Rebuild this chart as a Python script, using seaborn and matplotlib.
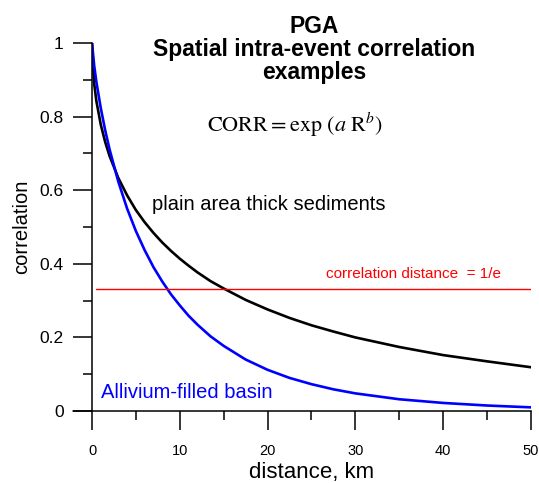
import numpy as np
import pandas as pd
import matplotlib
matplotlib.use('Agg')
import matplotlib.pyplot as plt
import seaborn as sns

# valores =====================================================================
distance = [0, 0.25, 0.5, 1, 1.5, 2, 3, 4, 5, 6, 7, 8, 9, 10, 11, 12,
            13.5, 15, 17.5, 20, 22.5, 25, 27.5, 30, 35, 40, 45, 50]
corr_sediments = [1.0, 0.889, 0.842, 0.778, 0.731, 0.693, 0.633, 0.586,
                  0.546, 0.513, 0.484, 0.458, 0.435, 0.414, 0.395, 0.377,
                  0.353, 0.333, 0.302, 0.276, 0.253, 0.233, 0.216, 0.200,
                  0.174, 0.152, 0.135, 0.119]
corr_basin = [1.0, 0.938, 0.894, 0.823, 0.763, 0.711, 0.623, 0.550,
              0.489, 0.437, 0.391, 0.352, 0.317, 0.287, 0.259, 0.235,
              0.203, 0.177, 0.140, 0.112, 0.090, 0.073, 0.059, 0.048,
              0.032, 0.022, 0.015, 0.010]
corr_distance = 0.331
line_start, line_end = 0.5, 50

xticks = [0, 10, 20, 30, 40, 50]
yticks = [0, 0.2, 0.4, 0.6, 0.8, 1]
ytick_labels = ['0', '0.2', '0.4', '0.6', '0.8', '1']

df = pd.DataFrame({'distance': distance,
                   'sediments': corr_sediments,
                   'basin': corr_basin})

sns.set_style('ticks')
plt.rcParams['font.family'] = ['Liberation Sans', 'DejaVu Sans']
plt.rcParams['mathtext.fontset'] = 'stix'
plt.rcParams['text.color'] = 'black'
plt.rcParams['axes.labelcolor'] = 'black'
plt.rcParams['xtick.color'] = 'black'
plt.rcParams['ytick.color'] = 'black'

fig = plt.figure(figsize=(5.39, 4.83), dpi=100)
ax = fig.add_axes([0.1707, 0.149, 0.8143, 0.762])

sns.lineplot(data=df, x='distance', y='sediments', color='black', lw=1.9, ax=ax)
sns.lineplot(data=df, x='distance', y='basin', color='#0000ff', lw=1.9, ax=ax)
ax.plot([line_start, line_end], [corr_distance, corr_distance], color='red', lw=1.0)

ax.set_xlim(0, 50)
ax.set_ylim(0, 1)
ax.set_xticks(xticks)
ax.set_xticks([5, 15, 25, 35, 45], minor=True)
ax.set_yticks(yticks)
ax.set_yticklabels(ytick_labels)
ax.set_yticks([0.1, 0.3, 0.5, 0.7, 0.9], minor=True)
sns.despine(ax=ax)
for s in ['left', 'bottom']:
    ax.spines[s].set_linewidth(1.1)
    ax.spines[s].set_color('black')

ax.tick_params(axis='both', which='major', direction='out', width=1.1,
               length=13.5, color='black')
ax.tick_params(axis='both', which='minor', direction='out', width=1.1,
               length=6.5, color='black')
ax.tick_params(axis='y', labelsize=12.5, pad=7)
ax.tick_params(axis='x', labelsize=10.5, pad=10)
# espinha inferior estendida para a esquerda (tick do zero)
ax.plot([-13.5 / 72 * 100 / 8.78, 0], [0, 0], color='black', lw=1.1,
        clip_on=False)

ax.set_xlabel('distance, km', fontsize=16, labelpad=3)
ax.set_ylabel('correlation', fontsize=14.5, labelpad=6)

fig.text(314 / 539, 1 - 15 / 483,
         'PGA\nSpatial intra-event correlation\nexamples',
         ha='center', va='top', fontsize=16.5, fontweight='bold', linespacing=1.0)
fig.text(295 / 539, 1 - 125 / 483,
         r'$\mathrm{CORR = exp\ (}\mathit{a}\ \mathrm{R}^{\mathit{b}}\mathrm{)}$',
         ha='center', va='center', fontsize=16)
fig.text(152 / 539, 1 - 205 / 483, 'plain area thick sediments',
         ha='left', va='center', fontsize=14.5, color='black')
fig.text(101 / 539, 1 - 393 / 483, 'Allivium-filled basin',
         ha='left', va='center', fontsize=14.5, color='#0000ff')
fig.text(326 / 539, 1 - 274 / 483, 'correlation distance  = 1/e',
         ha='left', va='center', fontsize=11, color='red')

fig.savefig('out.png', dpi=100)
